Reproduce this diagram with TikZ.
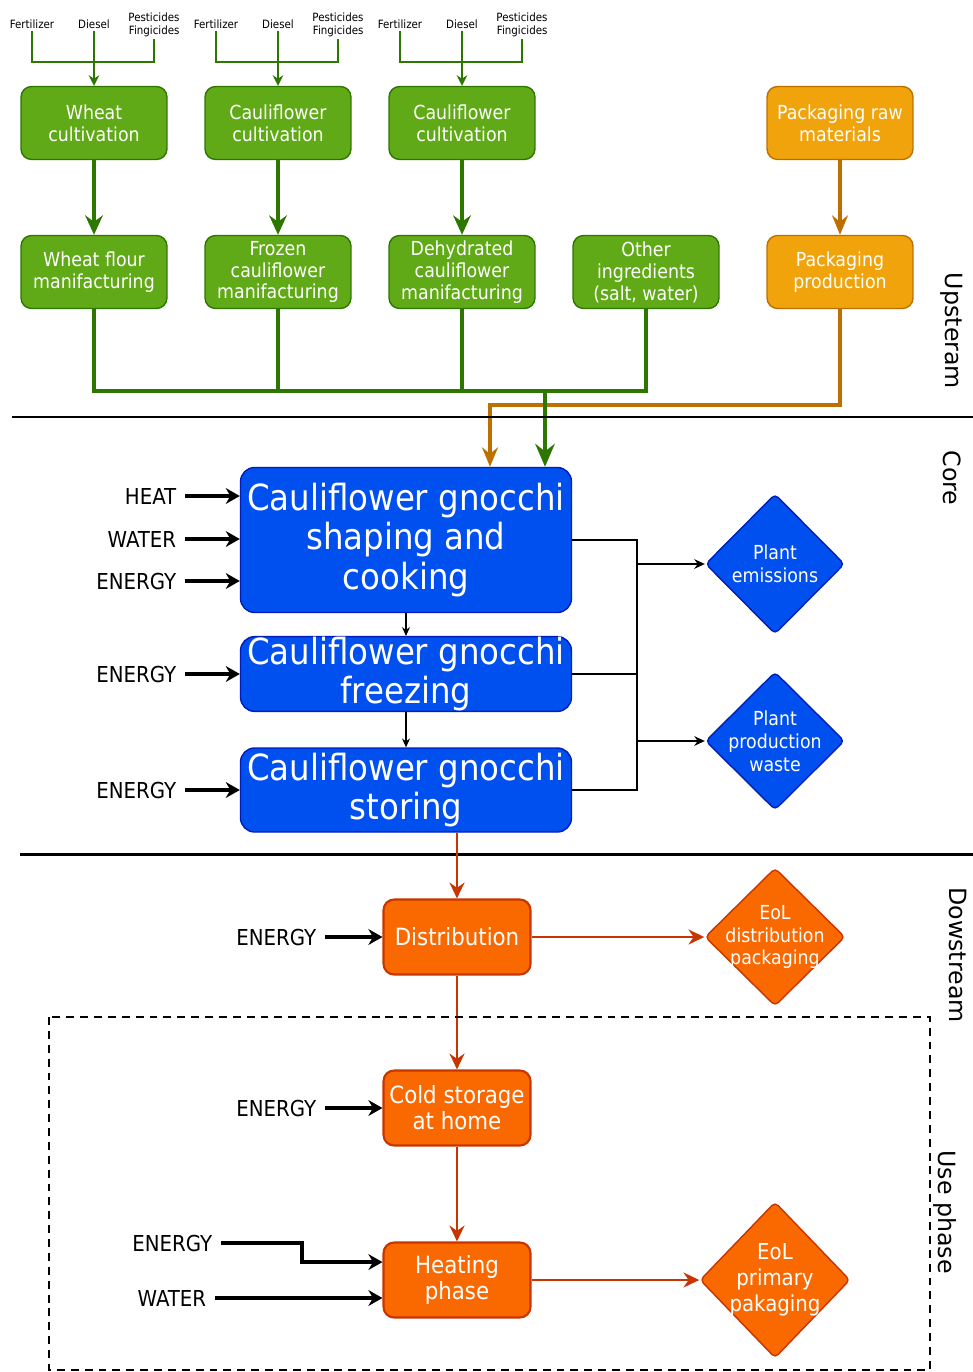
\documentclass[tikz,border=0pt]{standalone}
\usepackage{fontspec}
\setmainfont{DejaVu Sans}
\newfontfamily\narrowfont{DejaVu Sans Condensed}
\usetikzlibrary{arrows.meta,shapes.geometric}

\definecolor{gfill}{HTML}{60A917}
\definecolor{gline}{HTML}{2D7600}
\definecolor{pfill}{HTML}{F0A30A}
\definecolor{pline}{HTML}{BD7000}
\definecolor{bfill}{HTML}{0050EF}
\definecolor{bline}{HTML}{001DBC}
\definecolor{ofill}{HTML}{FA6800}
\definecolor{oline}{HTML}{C73500}

\begin{document}
\begin{tikzpicture}[x=0.02cm, y=-0.02cm,
	box/.style={draw, rounded corners=6pt, line width=0.8pt, minimum width=2.92cm,
		minimum height=1.46cm, align=center, text=white, inner sep=0pt,
		font=\narrowfont\fontsize{11}{12.5}\selectfont},
	gbox/.style={box, fill=gfill, draw=gline},
	pbox/.style={box, fill=pfill, draw=pline},
	obox/.style={box, fill=ofill, draw=oline, line width=1.2pt, minimum width=2.94cm, minimum height=1.5cm,
		font=\narrowfont\fontsize{13.5}{14.7}\selectfont},
	bbox/.style={box, fill=bfill, draw=bline, rounded corners=8pt, minimum width=6.62cm,
		font=\narrowfont\fontsize{20.5}{22.7}\selectfont},
	diam/.style={diamond, aspect=1, draw, rounded corners=2.5pt, line width=0.8pt, inner sep=0pt},
	dlabel/.style={align=center, text=white, font=\narrowfont\fontsize{11}{13}\selectfont},
	inlbl/.style={font=\narrowfont\fontsize{6.5}{7.2}\selectfont, inner sep=1pt},
	inname/.style={anchor=east, font=\narrowfont\fontsize{12.5}{14}\selectfont, inner sep=2pt},
	side/.style={rotate=-90, font=\fontsize{13.5}{15}\selectfont},
	feed/.style={draw=gline, line width=0.9pt},
	gthick/.style={draw=gline, line width=2.3pt, -{Stealth[length=11pt,width=10pt]}},
	othick/.style={draw=pline, line width=2pt, -{Stealth[length=11pt,width=9pt]}},
	inarr/.style={line width=2.2pt, shorten <=3pt, -{Stealth[length=8pt,width=9pt]}},
	cline/.style={line width=0.6pt},
	rarr/.style={draw=oline, line width=1.5pt, -{Stealth[length=9pt,width=8.5pt]}},
	sep/.style={line width=1.7pt},
	]
	\useasboundingbox (0,0) rectangle (973,1372);

	% upstream
	\node[gbox] (wcult) at (94,123) {Wheat\\cultivation};
	\node[gbox] (fcult) at (278,123) {Cauliflower\\cultivation};
	\node[gbox] (dcult) at (462,123) {Cauliflower\\cultivation};
	\node[pbox] (praw) at (840,123) {Packaging raw\\materials};
	\node[gbox] (wflour) at (94,272) {Wheat flour\\manifacturing};
	\node[gbox] (fcauli) at (278,272) {Frozen\\cauliflower\\manifacturing};
	\node[gbox] (dcauli) at (462,272) {Dehydrated\\cauliflower\\manifacturing};
	\node[gbox] (other) at (646,272) {Other\\ingredients\\(salt, water)};
	\node[pbox] (pprod) at (840,272) {Packaging\\production};

	\foreach \cx/\b [count=\i] in {94/wcult,278/fcult,462/dcult}{
		\node[inlbl] (fert\i) at (\cx-62,24) {Fertilizer};
		\node[inlbl] (dies\i) at (\cx,24) {Diesel};
		\node[inlbl, align=right] (pest\i) at (\cx+60,25) {Pesticides\\Fingicides};
		\draw[feed] (fert\i.south) |- (\cx,62) -| (pest\i.south);
		\draw[feed, -{Stealth[length=6pt,width=6pt]}] (dies\i.south) -- (\b.north);
	}

	\draw[gthick] (wcult) -- (wflour);
	\draw[gthick] (fcult) -- (fcauli);
	\draw[gthick] (dcult) -- (dcauli);
	\draw[othick] (praw) -- (pprod);

	% core
	\node[bbox, minimum height=2.9cm] (cook) at (406,540) {Cauliflower gnocchi\\shaping and\\cooking};
	\node[bbox, minimum height=1.48cm] (freeze) at (406,674) {Cauliflower gnocchi\\freezing};
	\node[bbox, minimum height=1.68cm] (store) at (406,790) {Cauliflower gnocchi\\storing};

	\coordinate (gjoin) at (545,391);
	\coordinate (ojoin) at (490,405);
	\draw[gline, line width=2.3pt] (wflour.south) |- (gjoin) -| (other.south);
	\draw[gline, line width=2.3pt] (fcauli.south) -- (fcauli.south |- gjoin);
	\draw[gline, line width=2.3pt] (dcauli.south) -- (dcauli.south |- gjoin);
	\draw[othick] (pprod.south) |- (ojoin) -- (ojoin |- cook.north);
	\draw[gthick, -{Stealth[length=13pt,width=11pt]}] (gjoin) -- (gjoin |- cook.north);

	\draw[sep] (12,417) -- (973,417);
	\draw[sep] (20,854) -- (973,854);

	\node[inname] (heat) at (180,496) {HEAT};
	\node[inname] (water) at (180,539) {WATER};
	\node[inname] (en1) at (180,581) {ENERGY};
	\node[inname] (en2) at (180,674) {ENERGY};
	\node[inname] (en3) at (180,790) {ENERGY};
	\draw[inarr] (heat) -- (heat -| cook.west);
	\draw[inarr] (water) -- (water -| cook.west);
	\draw[inarr] (en1) -- (en1 -| cook.west);
	\draw[inarr] (en2) -- (freeze);
	\draw[inarr] (en3) -- (store);

	\draw[cline, -{Stealth[length=5pt,width=4.5pt]}] (cook) -- (freeze);
	\draw[cline, -{Stealth[length=5pt,width=4.5pt]}] (freeze) -- (store);

	\node[diam, fill=bfill, draw=bline, minimum width=2.78cm, minimum height=2.8cm,
		label={[dlabel]center:Plant\\emissions}] (emis) at (775,564) {};
	\node[diam, fill=bfill, draw=bline, minimum width=2.78cm, minimum height=2.76cm,
		label={[dlabel]center:Plant\\production\\waste}] (waste) at (775,741) {};

	\coordinate (rbus) at (637,0);
	\draw[cline] (cook.east) -| (rbus |- store.east) -- (store.east);
	\draw[cline] (freeze.east) -- (rbus |- freeze.east);
	\draw[cline, -{Stealth[length=6pt,width=5.5pt]}] (rbus |- emis) -- (emis.west);
	\draw[cline, -{Stealth[length=6pt,width=5.5pt]}] (rbus |- waste) -- (waste.west);

	% downstream
	\node[obox] (distr) at (457,937) {Distribution};
	\node[obox] (cold) at (457,1108) {Cold storage\\at home};
	\node[obox] (hphase) at (457,1280) {Heating\\phase};
	\node[diam, fill=ofill, draw=oline, minimum width=2.8cm, minimum height=2.76cm,
		label={[dlabel]center:EoL\\distribution\\packaging}] (eold) at (775,937) {};
	\node[diam, fill=ofill, draw=oline, minimum width=3cm, minimum height=3.12cm,
		label={[dlabel, font=\narrowfont\fontsize{12.5}{14.7}\selectfont]center:EoL\\primary\\pakaging}] (eolp) at (775,1280) {};

	\node[inname] (en4) at (320,937) {ENERGY};
	\node[inname] (en5) at (320,1108) {ENERGY};
	\node[inname] (en6) at (216,1243) {ENERGY};
	\node[inname] (wat2) at (210,1298) {WATER};
	\coordinate (hbend) at (302,1243);
	\draw[inarr] (en4) -- (distr);
	\draw[inarr] (en5) -- (cold);
	\draw[inarr] (en6) -- (hbend) |- ([yshift=10.2pt]hphase.west);
	\draw[inarr] (wat2) -- (wat2 -| hphase.west);

	\draw[rarr] (store.south -| distr) -- (distr);
	\draw[rarr] (distr) -- (cold);
	\draw[rarr] (cold) -- (hphase);
	\draw[rarr] (distr) -- (eold);
	\draw[rarr] (hphase) -- (eolp);

	\draw[line width=1.4pt, dash pattern=on 4.5pt off 3.4pt] (49,1017) rectangle (930,1370);

	% stage names
	\node[side] (sup) at (952,331) {Upsteram};
	\node[side] (score) at (952,478) {Core};
	\node[side] (sdown) at (958,955) {Dowstream};
	\node[side] (suse) at (945,1212) {Use phase};
\end{tikzpicture}
\end{document}
